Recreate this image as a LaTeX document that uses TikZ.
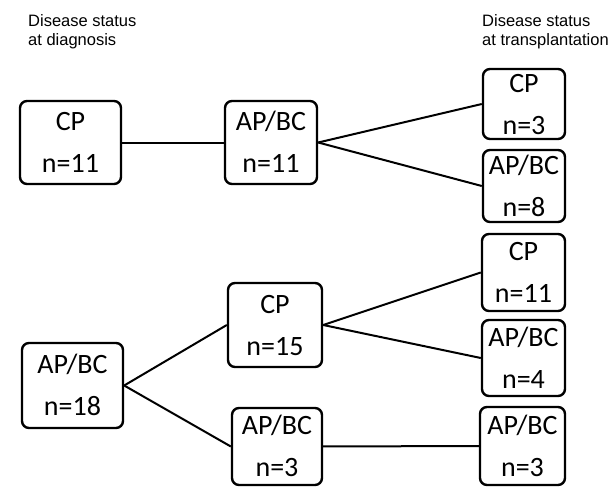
\documentclass[tikz,border=0pt]{standalone}
\usepackage{fontspec}
\setmainfont{Carlito}
\newfontfamily\headfont{Liberation Sans}

\begin{document}
\begin{tikzpicture}[x=1pt,y=-1pt,
    box/.style={draw, line width=2.4pt, rounded corners=7pt, inner sep=0pt, align=center,
      font=\fontsize{28}{42}\selectfont, text height=60pt, text depth=0pt},
    head/.style={anchor=base west, inner sep=0pt, align=left,
      font=\headfont\fontsize{16.5}{19}\selectfont},
    link/.style={line width=2pt}]
\useasboundingbox (0,0) rectangle (611,487);
\node [head] (H1) at (28,45.7) {Disease status\\at diagnosis};
\node [head] (H2) at (482,45.7) {Disease status\\at transplantation};
% patients in CP at diagnosis
\node [box, minimum width=101pt, minimum height=83pt] (A1) at (70.5,142.5) {CP\\n=11};
\node [box, minimum width=92pt, minimum height=83pt] (A2) at (271,142.5) {AP/BC\\n=11};
\node [box, minimum width=82pt, minimum height=70pt] (A3) at (524,104) {CP\\n=3};
\node [box, minimum width=82pt, minimum height=72pt] (A4) at (524,186) {AP/BC\\n=8};
\draw [link] (A1) to (A2);
\draw [link] (A2.east) to (A3.west); \draw [link] (A2.east) to (A4.west);
% patients in AP/BC at diagnosis
\node [box, minimum width=101pt, minimum height=85pt] (B1) at (72.5,385.5) {AP/BC\\n=18};
\node [box, minimum width=94pt, minimum height=84pt] (B2) at (275,325) {CP\\n=15};
\node [box, minimum width=90pt, minimum height=77pt] (B3) at (277,446.5) {AP/BC\\n=3};
\node [box, minimum width=83pt, minimum height=77pt] (B4) at (523.5,272.5) {CP\\n=11};
\node [box, minimum width=83pt, minimum height=76pt] (B5) at (523.5,358) {AP/BC\\n=4};
\node [box, minimum width=85pt, minimum height=78pt] (B6) at (522.5,446) {AP/BC\\n=3};
\draw [link] (B1.east) to (B2.west); \draw [link] (B1.east) to (B3.west);
\draw [link] (B2.east) to (B4.west); \draw [link] (B2.east) to (B5.west);
\draw [link] (B3) to (B6);
\end{tikzpicture}
\end{document}
